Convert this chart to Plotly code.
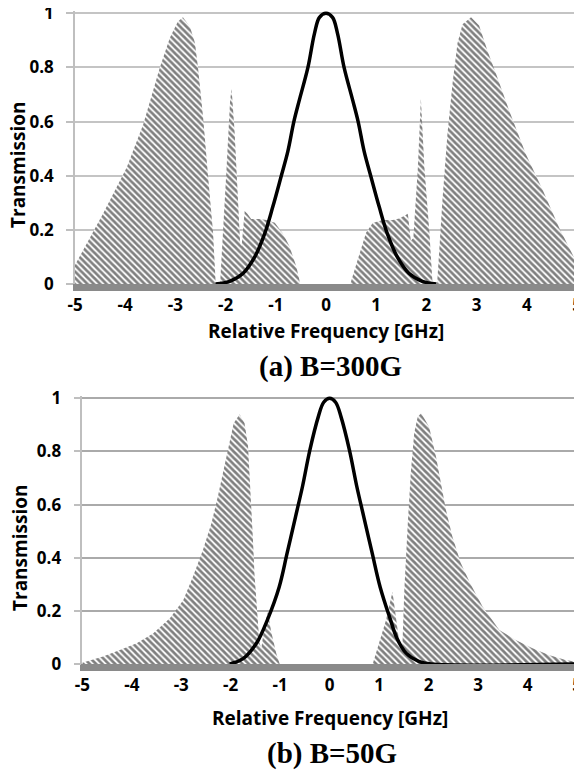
import plotly.graph_objects as go

# ---------------- data ----------------
x_ticks = [-5, -4, -3, -2, -1, 0, 1, 2, 3, 4, 5]
x_tick_labels = ["-5", "-4", "-3", "-2", "-1", "0", "1", "2", "3", "4", "5"]
y_ticks = [0, 0.2, 0.4, 0.6, 0.8, 1]
y_tick_labels = ["0", "0.2", "0.4", "0.6", "0.8", "1"]

# (a) B=300G : filter transmission (hatched)
a_filter_x = [-5.00, -4.44, -3.97, -3.64, -3.31, -3.11, -2.95, -2.85, -2.71, -2.61,
              -2.55, -2.45, -2.35, -2.25, -2.20, -2.19, -2.11, -2.07, -2.05, -1.98,
              -1.91, -1.88, -1.82, -1.75, -1.71, -1.68, -1.62, -1.57, -1.49, -1.32,
              -1.19, -1.02, -0.86, -0.73, -0.59, -0.53, -0.52, 0.49, 0.50, 0.67,
              0.80, 0.93, 1.13, 1.33, 1.46, 1.59, 1.63, 1.69, 1.74, 1.83,
              1.89, 1.96, 2.06, 2.12, 2.13, 2.21, 2.22, 2.32, 2.42, 2.52,
              2.62, 2.72, 2.89, 3.05, 3.22, 3.38, 3.65, 3.98, 4.31, 4.64, 5.00]
a_filter_y = [0.07, 0.26, 0.43, 0.59, 0.80, 0.91, 0.97, 0.985, 0.95, 0.89,
              0.80, 0.62, 0.40, 0.19, 0.01, 0.0, 0.0, 0.12, 0.19, 0.43,
              0.68, 0.72, 0.56, 0.31, 0.15, 0.14, 0.27, 0.26, 0.24, 0.24,
              0.236, 0.226, 0.187, 0.14, 0.064, 0.015, 0.0, 0.0, 0.01, 0.113,
              0.19, 0.225, 0.236, 0.236, 0.242, 0.255, 0.26, 0.16, 0.17, 0.43,
              0.685, 0.43, 0.19, 0.01, 0.0, 0.0, 0.02, 0.31, 0.556, 0.74,
              0.89, 0.96, 0.985, 0.955, 0.86, 0.78, 0.64, 0.48, 0.35, 0.21, 0.076]

# (a) laser line
a_laser_x = [-2.20, -1.92, -1.65, -1.42, -1.22, -1.06, -0.89, -0.76, -0.64, -0.53,
             -0.36, -0.23, -0.13, 0.0, 0.13, 0.23, 0.36, 0.53, 0.64, 0.76,
             0.89, 1.06, 1.22, 1.42, 1.65, 1.92, 2.20]
a_laser_y = [0.0, 0.01, 0.04, 0.10, 0.187, 0.285, 0.40, 0.49, 0.60, 0.68,
             0.80, 0.925, 0.985, 1.0, 0.985, 0.925, 0.80, 0.68, 0.60, 0.49,
             0.40, 0.285, 0.187, 0.10, 0.04, 0.01, 0.0]

# (b) B=50G : filter transmission (hatched)
b_filter_x = [-5.00, -4.58, -4.24, -3.90, -3.57, -3.23, -2.96, -2.76, -2.56, -2.39,
              -2.26, -2.14, -2.03, -1.94, -1.82, -1.72, -1.65, -1.62, -1.58, -1.55,
              -1.52, -1.47, -1.42, -1.38, -1.32, -1.25, -1.18, -1.08, -1.01, 0.87,
              1.00, 1.14, 1.27, 1.34, 1.41, 1.47, 1.51, 1.58, 1.64, 1.71,
              1.78, 1.85, 2.01, 2.15, 2.25, 2.35, 2.48, 2.65, 2.85, 3.09,
              3.43, 3.76, 4.10, 4.43, 4.77, 5.00]
b_filter_y = [0.005, 0.028, 0.053, 0.078, 0.115, 0.172, 0.24, 0.33, 0.43, 0.53,
              0.63, 0.73, 0.83, 0.906, 0.94, 0.906, 0.82, 0.72, 0.59, 0.467,
              0.34, 0.216, 0.08, 0.06, 0.14, 0.195, 0.12, 0.04, 0.0, 0.0,
              0.078, 0.166, 0.272, 0.178, 0.078, 0.065, 0.28, 0.53, 0.72, 0.87,
              0.93, 0.944, 0.893, 0.78, 0.68, 0.58, 0.48, 0.38, 0.30, 0.216,
              0.128, 0.09, 0.059, 0.034, 0.015, 0.008]

# (b) laser line
b_laser_x = [-2.02, -1.75, -1.48, -1.25, -1.02, -0.86, -0.69, -0.55, -0.40, -0.23,
             -0.12, 0.0, 0.12, 0.23, 0.40, 0.55, 0.69, 0.86, 1.02, 1.23,
             1.36, 1.55, 1.80, 2.05, 5.00]
b_laser_y = [0.0, 0.02, 0.078, 0.17, 0.29, 0.417, 0.554, 0.667, 0.805, 0.93,
             0.985, 1.0, 0.985, 0.93, 0.805, 0.667, 0.554, 0.417, 0.29, 0.166,
             0.097, 0.04, 0.01, 0.0, 0.0]

# ---------------- figure ----------------
# The page body has an 8px margin, so the figure is drawn at (8, 8) in the window.
OFF = 8
W, H = 582 - OFF, 771 - OFF
fig = go.Figure()

pattern = dict(shape="\\", size=4.5, solidity=0.6, fgcolor="black", bgcolor="white")

fig.add_trace(go.Scatter(x=a_filter_x, y=a_filter_y, mode="lines", fill="tozeroy",
                         fillcolor="white", fillpattern=pattern, line=dict(width=0, color="black"),
                         xaxis="x", yaxis="y", showlegend=False, hoverinfo="skip"))
fig.add_trace(go.Scatter(x=a_laser_x, y=a_laser_y, mode="lines", line=dict(color="black", width=3.5, shape="spline"),
                         xaxis="x", yaxis="y", showlegend=False, cliponaxis=False))
fig.add_trace(go.Scatter(x=b_filter_x, y=b_filter_y, mode="lines", fill="tozeroy",
                         fillcolor="white", fillpattern=pattern, line=dict(width=0, color="black"),
                         xaxis="x2", yaxis="y2", showlegend=False, hoverinfo="skip"))
fig.add_trace(go.Scatter(x=b_laser_x, y=b_laser_y, mode="lines", line=dict(color="black", width=3.5, shape="spline"),
                         xaxis="x2", yaxis="y2", showlegend=False, cliponaxis=False))

FONT = "Open Sans"
tick_font = dict(family=FONT, size=17, color="black", weight=700)


def bold(labels):
    return ["<b>%s</b>" % t for t in labels]


def fx(px):
    return (px - OFF) / W


def fy(py):
    return 1 - (py - OFF) / H


def xaxis_cfg(domain, anchor):
    return dict(domain=domain, anchor=anchor, range=[-5, 5], tickvals=x_ticks, ticktext=bold(x_tick_labels),
                showgrid=False, zeroline=False, showline=True, linecolor="#8a8a8a", linewidth=7,
                ticks="", tickfont=tick_font, ticklabelstandoff=0, ticklabeloverflow="allow",
                layer="below traces", fixedrange=True)


def yaxis_cfg(domain, anchor, gridcolor):
    return dict(domain=domain, anchor=anchor, range=[0, 1.01], tickvals=y_ticks, ticktext=bold(y_tick_labels),
                showgrid=True, gridcolor=gridcolor, gridwidth=1.5, zeroline=False,
                showline=True, linecolor="#bfbfbf", linewidth=1.5,
                ticks="outside", ticklen=7, tickcolor="#bfbfbf", tickwidth=1.5,
                tickfont=tick_font, ticklabelstandoff=9, ticklabeloverflow="allow",
                layer="below traces", fixedrange=True)


fig.update_layout(
    width=W, height=H,
    margin=dict(l=0, r=0, t=0, b=0, autoexpand=False),
    paper_bgcolor="white", plot_bgcolor="white",
    xaxis=xaxis_cfg([fx(75), fx(577)], "y"),
    yaxis=yaxis_cfg([fy(284), fy(10.6)], "x", "#c4c4c4"),
    xaxis2=xaxis_cfg([fx(82.3), fx(577)], "y2"),
    yaxis2=yaxis_cfg([fy(664), fy(395.6)], "x2", "#aaaaaa"),
)

label_font = dict(family=FONT, size=19, color="black", weight=700)
title_font = dict(family="Liberation Serif", size=29, color="black")


def ann(text, px, py, font, angle=0):
    return dict(text="<b>%s</b>" % text, x=fx(px), y=fy(py), xref="paper", yref="paper",
                xanchor="center", yanchor="middle", showarrow=False, font=font, textangle=angle)


fig.update_layout(annotations=[
    ann("Transmission", 18, 165, label_font, -90),
    ann("Relative Frequency [GHz]", 326, 331, label_font),
    ann("(a) B=300G", 330, 366, title_font),
    ann("Transmission", 20, 548, label_font, -90),
    ann("Relative Frequency [GHz]", 330, 718, label_font),
    ann("(b) B=50G", 332, 753, title_font),
])

fig.write_html("out.html")
